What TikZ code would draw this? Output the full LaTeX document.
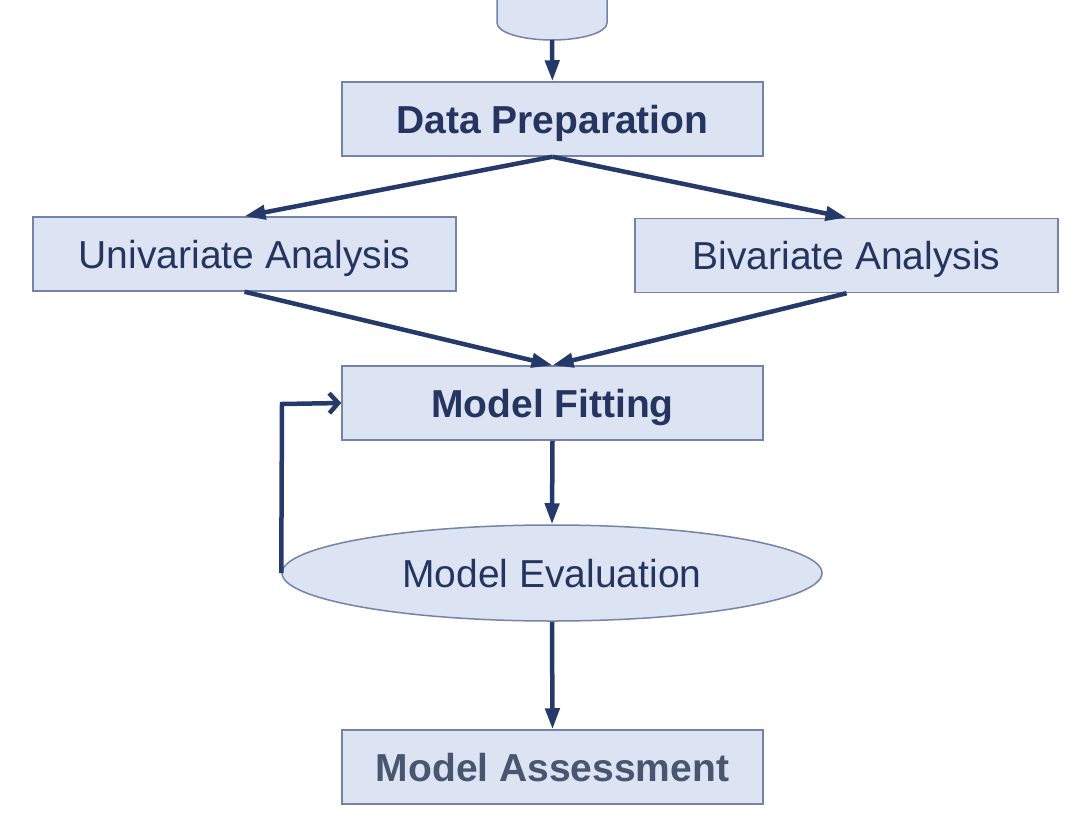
\documentclass[tikz,border=0pt]{standalone}
\usepackage{fontspec}
\setmainfont{Liberation Sans}
\usetikzlibrary{arrows.meta,shapes.geometric}
\definecolor{boxfill}{HTML}{DCE3F2}
\definecolor{boxline}{HTML}{7484A8}
\definecolor{arrowc}{HTML}{253A6A}
\definecolor{textc}{HTML}{253560}
\definecolor{greytext}{HTML}{4A5570}
\tikzset{
  box/.style={draw=boxline, fill=boxfill, line width=1.5pt, minimum width=421pt, minimum height=74pt, inner sep=0pt, text=textc, font=\fontsize{39}{41}\selectfont, text height=28pt, text depth=0pt},
  oval/.style={ellipse, draw=boxline, fill=boxfill, line width=1.5pt, minimum width=540pt, minimum height=96pt, inner sep=0pt, text=textc, font=\fontsize{39}{41}\selectfont, text height=28pt, text depth=0pt},
  conn/.style={draw=arrowc, line width=4.5pt, -{Triangle[length=21pt,width=14pt]}},
  back/.style={draw=arrowc, line width=4.5pt, -{Straight Barb[length=9pt,width=20pt,line width=4.5pt]}}
}
\begin{document}
\begin{tikzpicture}[x=1pt,y=-1pt]
\useasboundingbox (0,0) rectangle (1092,819);
\fill[white] (0,0) rectangle (1092,819);
% cylinder (cut by the top edge)
\begin{scope}
\clip (0,0) rectangle (1092,819);
\draw[draw=boxline, fill=boxfill, line width=1.5pt]
  (497,-10) -- (497,23) arc[start angle=180, end angle=360, x radius=55, y radius=-17] -- (607,-10) -- cycle;
\end{scope}
\coordinate (cyl) at (552,40);
\node[box, font=\bfseries\fontsize{39}{41}\selectfont] (prep) at (552.4,119) {Data Preparation};
\node[box, minimum width=423pt] (uni) at (244.5,254) {Univariate Analysis};
\node[box, minimum width=423pt] (bi) at (846.5,255.5) {Bivariate Analysis};
\node[box, font=\bfseries\fontsize{39}{41}\selectfont] (fit) at (552.5,403) {Model Fitting};
\node[oval] (eval) at (552,573) {Model Evaluation};
\node[box, font=\bfseries\fontsize{39}{41}\selectfont, text=greytext] (assess) at (552.5,767) {Model Assessment};
\coordinate (corner) at (282,404);
\draw[conn] (cyl) -- (prep.north);
\draw[conn] (prep.south) -- (uni.north);
\draw[conn] (prep.south) -- (bi.north);
\draw[conn] (uni.south) -- (fit.north);
\draw[conn] (bi.south) -- (fit.north);
\draw[conn] (fit.south) -- (eval.north);
\draw[conn] (eval.south) -- (assess.north);
\draw[back] (eval.west) -- (corner) -- (fit.west);
\end{tikzpicture}
\end{document}
